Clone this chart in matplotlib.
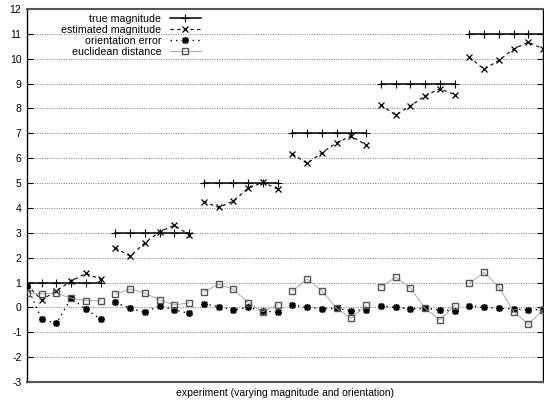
import matplotlib
matplotlib.use("Agg")
import matplotlib.pyplot as plt
import numpy as np

plt.rcParams['font.family'] = ['Liberation Sans', 'DejaVu Sans']
plt.rcParams['axes.unicode_minus'] = False

# six experiments, six samples each
group_true = [1, 3, 5, 7, 9, 11]
estimated = [
    [0.90, 0.30, 0.67, 1.06, 1.37, 1.13],
    [2.39, 2.06, 2.60, 3.05, 3.30, 2.92],
    [4.25, 4.02, 4.28, 4.79, 5.03, 4.76],
    [6.17, 5.79, 6.22, 6.62, 6.89, 6.53],
    [8.14, 7.74, 8.10, 8.50, 8.80, 8.55],
    [10.07, 9.58, 9.93, 10.39, 10.67, 10.40],
]
orientation = [
    [0.85, -0.48, -0.64, 0.37, -0.08, -0.47],
    [0.20, -0.04, -0.20, 0.07, -0.10, -0.24],
    [0.14, 0.03, -0.10, 0.00, -0.13, -0.20],
    [0.10, 0.00, -0.05, -0.04, -0.13, -0.10],
    [0.07, 0.00, -0.06, -0.04, -0.10, -0.13],
    [0.07, 0.00, -0.04, -0.06, -0.10, -0.08],
]
euclidean = [
    [0.59, 0.54, 0.57, 0.37, 0.27, 0.27],
    [0.53, 0.74, 0.57, 0.30, 0.10, 0.18],
    [0.63, 0.93, 0.73, 0.19, -0.17, 0.10],
    [0.66, 1.14, 0.67, -0.04, -0.44, 0.08],
    [0.83, 1.21, 0.79, -0.04, -0.50, 0.06],
    [0.97, 1.41, 0.83, -0.17, -0.67, -0.10],
]
labels = ["true magnitude", "estimated magnitude", "orientation error", "euclidean distance"]
yticks = list(range(-3, 13))

fig = plt.figure(figsize=(5.44, 4.04), dpi=100)
ax = fig.add_axes([27/544, 1-382/404, 516/544, 373/404])

n = len(estimated[0])
styles = [
    dict(color='black', ls='-', lw=1.1, marker='+', ms=6, mew=0.8),
    dict(color='black', ls=(0, (3, 3)), lw=0.8, marker='x', ms=4.5, mew=0.9),
    dict(color='black', ls=(0, (1, 3)), lw=1.0, marker=(8, 2, 0), ms=5, mew=1.1),
    dict(color='#aaaaaa', ls='-', lw=0.7, marker='s', ms=5, mew=1.0, mfc='none', mec='#555555'),
]
handles = [None]*4
for g in range(len(group_true)):
    x = np.arange(g*n, (g+1)*n)
    series = [[group_true[g]]*n, estimated[g], orientation[g], euclidean[g]]
    for k in (3, 2, 1, 0):
        h, = ax.plot(x, series[k], **styles[k], zorder=3+k)
        handles[k] = h

ax.set_xlim(0, len(group_true)*n - 1)
ax.set_ylim(-3, 12)
ax.set_yticks(yticks)
ax.set_xticks([])
ax.tick_params(axis='y', direction='in', length=4, labelsize=7.5, pad=4, right=True)
for y in yticks[1:-1]:
    ax.axhline(y, color='#777777', lw=0.7, ls=(0, (1, 1.5)), zorder=1)
for s in ('top', 'bottom'):
    ax.spines[s].set_color('#555555')
    ax.spines[s].set_linewidth(1.5)
ax.spines['left'].set_linewidth(1.0)
ax.spines['right'].set_linewidth(1.0)

ax.set_xlabel("experiment (varying magnitude and orientation)", fontsize=7.5, labelpad=4)

leg = fig.legend(handles, labels, loc='upper right', bbox_to_anchor=(201/544, 1-14/404),
                 frameon=False, markerfirst=False, fontsize=7.7, handlelength=2.9,
                 handletextpad=0.8, labelspacing=0.1, borderpad=0, borderaxespad=0)

fig.savefig("out.png", dpi=100)
